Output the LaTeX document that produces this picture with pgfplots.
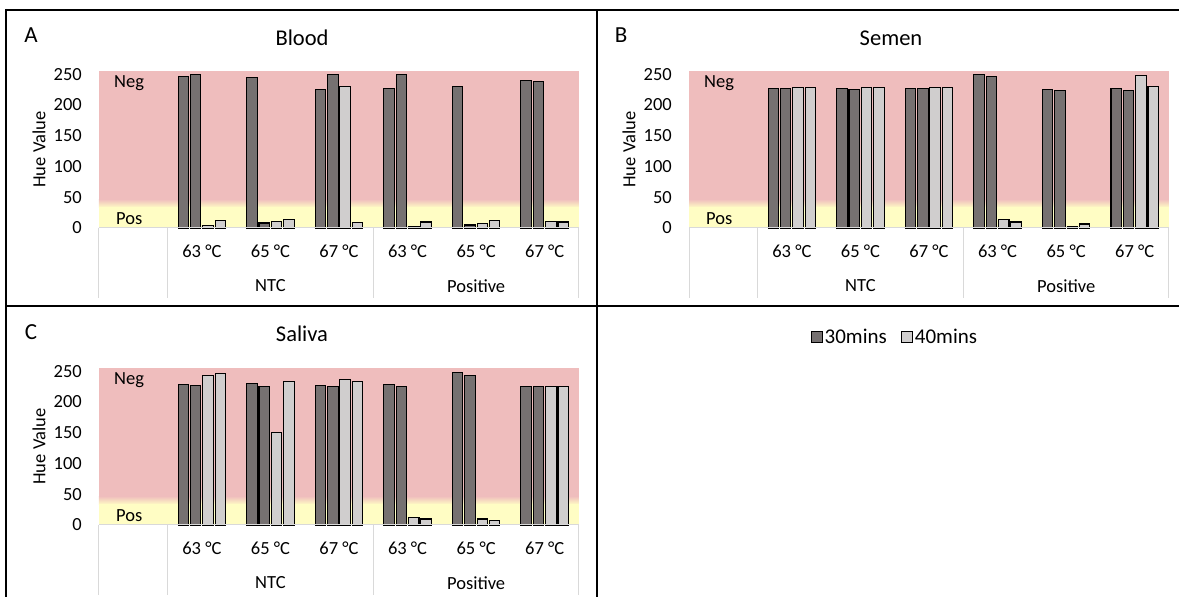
\documentclass[border=0pt]{standalone}
\usepackage{fontspec}
\setmainfont{Carlito}
\usepackage{pgfplots}
\usepackage{pgfplotstable}
\pgfplotsset{compat=1.18}

\definecolor{negbg}{RGB}{239,189,189}
\definecolor{posbg}{RGB}{255,253,196}
\definecolor{darkbar}{RGB}{118,113,113}
\definecolor{lightbar}{RGB}{208,206,206}
\definecolor{catline}{RGB}{217,217,217}

% hue values: r1, r2 = 30 mins replicates, r3, r4 = 40 mins replicates
% x: 1-3 = NTC at 63/65/67 C, 4-6 = Positive at 63/65/67 C
\pgfplotstableread{
x r1    r2    r3    r4
1 246   250   4.3   12
2 244.6 8.1   10.8  13.6
3 225   249.5 230.5 9.2
4 226.7 250   2.7   9.8
5 229.4 4.9   7     12.5
6 239   237.5 10.8  9.8
}\blood

\pgfplotstableread{
x r1    r2    r3    r4
1 226.7 226.7 228.8 227.8
2 226   225   227.8 227.8
3 226   226   227.8 227.8
4 249.5 246   13.6  9.8
5 225   223   1.6   6.5
6 226   224   248.4 229.4
}\semen

\pgfplotstableread{
x r1    r2    r3    r4
1 228.3 227.2 243.5 246.2
2 229.4 225.6 150.2 233.7
3 227.2 225.6 236.4 232.6
4 228.3 225.6 12.5  9.8
5 247.8 243.5 9.8   7.6
6 225.6 224.5 225.6 224.5
}\saliva

\newcommand{\ticksize}{\fontsize{18.5}{22}\selectfont}
\newcommand{\titlesize}{\fontsize{22.5}{26}\selectfont}

\pgfplotsset{
  hueaxis/.style={
    scale only axis, width=480pt, height=157pt,
    anchor=south west, clip=false,
    xmin=-0.5, xmax=6.5, ymin=0, ymax=255,
    axis line style={draw=none}, major tick style={draw=none},
    ytick={0,50,...,250},
    xtick={1,...,6},
    xticklabels={63 °C,65 °C,67 °C,63 °C,65 °C,67 °C},
    /pgf/number format/assume math mode=true,
    ticklabel style={font=\ticksize},
    yticklabel style={anchor=east, inner sep=0pt, xshift=-17pt},
    xticklabel style={anchor=center, inner sep=0pt, yshift=-23.7pt},
  },
  barstyle/.style={ybar, bar width=0.153, draw=black, line width=1.1pt},
  sq legend/.style={legend image code/.code={%
      \draw[##1,/tikz/.cd,line width=1.1pt] (0pt,-5.5pt) rectangle (11pt,5.5pt);}},
}

% background bands, bars and the category table beneath one panel
\newcommand{\panelbody}[1]{%
  \fill[negbg] (axis cs:-0.5,46) rectangle (axis cs:6.5,255);
  \shade[bottom color=posbg, top color=negbg] (axis cs:-0.5,33) rectangle (axis cs:6.5,47);
  \fill[posbg] (axis cs:-0.5,0) rectangle (axis cs:6.5,34);
  \addplot[barstyle, bar shift=-0.27, fill=darkbar, sq legend] table[x=x,y=r1]{#1};
  \addplot[barstyle, bar shift=-0.09, fill=darkbar, forget plot] table[x=x,y=r2]{#1};
  \addplot[barstyle, bar shift=0.09, fill=lightbar, sq legend] table[x=x,y=r3]{#1};
  \addplot[barstyle, bar shift=0.27, fill=lightbar, forget plot] table[x=x,y=r4]{#1};
  \draw[catline, line width=1pt] (axis cs:-0.5,0) -- (axis cs:6.5,0);
  \pgfplotsinvokeforeach{-0.5,0.5,3.5,6.5}{%
    \draw[catline, line width=1pt] (axis cs:##1,0) -- ++(0pt,-70pt);}
  \node[font=\ticksize] at ([yshift=-58pt]axis cs:2,0) {NTC};
  \node[font=\ticksize] at ([yshift=-58pt]axis cs:5,0) {Positive};
  \node[font=\ticksize] at (axis cs:-0.06,235.5) {Neg};
  \node[font=\ticksize] at (axis cs:-0.06,14.6) {Pos};
  \node[font=\ticksize, rotate=90] at ([xshift=-60pt]rel axis cs:0,0.5) {Hue Value};
}

\begin{document}
\begin{tikzpicture}[x=1pt, y=1pt]
\path[use as bounding box] (0,0) rectangle (1179,597);

% panel frames
\draw[line width=2pt] (5,587) -- (1179,587);
\draw[line width=2pt] (6,291) -- (1179,291);
\draw[line width=2pt] (6,588) -- (6,0);
\draw[line width=2pt] (597,587) -- (597,0);

% A: Blood
\begin{axis}[hueaxis, at={(99pt,369pt)},
  legend columns=2,
  legend style={at={(rel axis cs:1.658,-0.694)}, anchor=center,
    draw=none, fill=none, font=\fontsize{21}{24}\selectfont,
    /tikz/every even column/.append style={column sep=12pt},
    nodes={inner xsep=2pt}}]
\panelbody{\blood}
\legend{30mins,40mins}
\end{axis}

% B: Semen
\begin{axis}[hueaxis, at={(689pt,369pt)}]
\panelbody{\semen}
\end{axis}

% C: Saliva
\begin{axis}[hueaxis, at={(99pt,72pt)}]
\panelbody{\saliva}
\end{axis}

% panel titles and letters
\node[font=\titlesize] at (302,559) {Blood};
\node[font=\titlesize] at (891,559) {Semen};
\node[font=\titlesize] at (302,263) {Saliva};
\node[font=\fontsize{23}{27}\selectfont] at (31,562) {A};
\node[font=\fontsize{23}{27}\selectfont] at (621,562) {B};
\node[font=\fontsize{23}{27}\selectfont] at (31,265) {C};
\end{tikzpicture}
\end{document}
